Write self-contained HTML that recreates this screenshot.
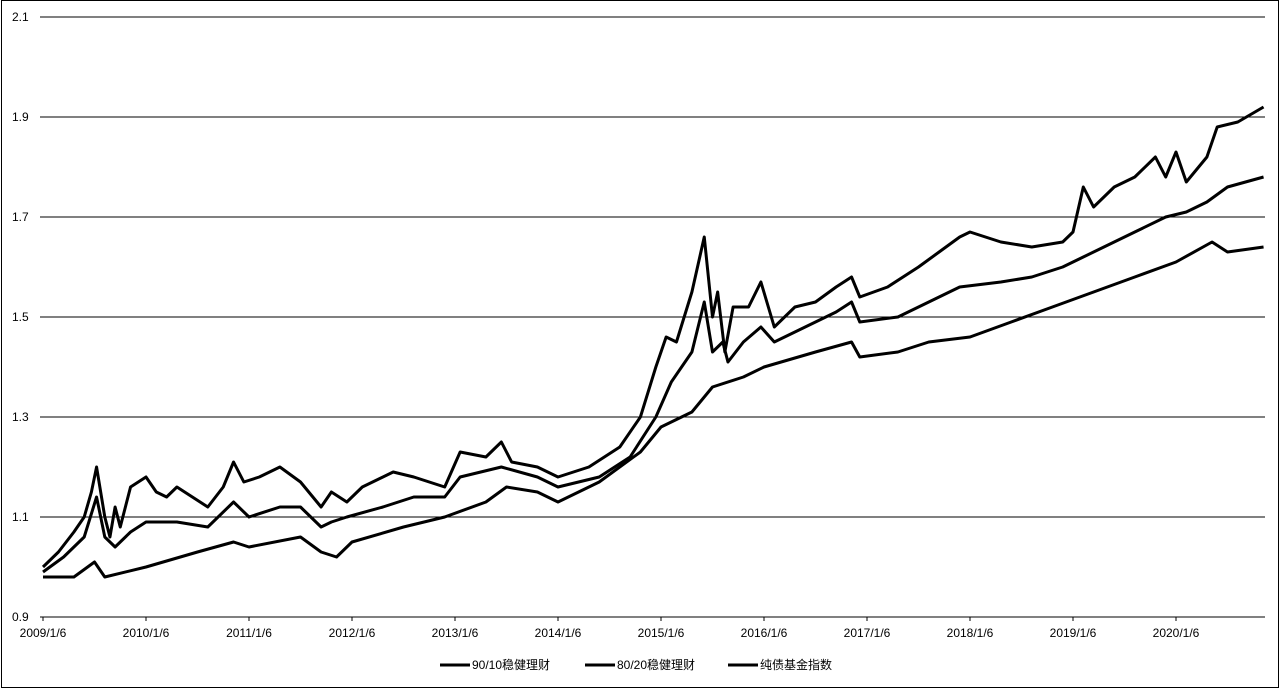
<!DOCTYPE html>
<html><head><meta charset="utf-8"><style>
body{margin:0;background:#fff}
svg text{font-family:"Liberation Sans","Noto Sans CJK SC",sans-serif;font-size:12px;fill:#000}
</style></head><body>
<svg width="1280" height="688" id="c">
<rect x="1.5" y="0.5" width="1277" height="687" fill="none" stroke="#000"/>
</svg>
<script>
const yTicks=[0.9,1.1,1.3,1.5,1.7,1.9,2.1];
const xTickLabels=["2009/1/6","2010/1/6","2011/1/6","2012/1/6","2013/1/6","2014/1/6","2015/1/6","2016/1/6","2017/1/6","2018/1/6","2019/1/6","2020/1/6"];
const seriesNames=["90/10稳健理财","80/20稳健理财","纯债基金指数"];
const tA=[2009.0,2009.15,2009.3,2009.4,2009.47,2009.52,2009.6,2009.65,2009.7,2009.75,2009.85,2010.0,2010.1,2010.2,2010.3,2010.45,2010.6,2010.75,2010.85,2010.95,2011.1,2011.3,2011.5,2011.7,2011.8,2011.95,2012.1,2012.4,2012.6,2012.9,2013.05,2013.3,2013.45,2013.55,2013.8,2014.0,2014.3,2014.6,2014.8,2014.95,2015.05,2015.15,2015.3,2015.42,2015.5,2015.55,2015.62,2015.7,2015.85,2015.97,2016.1,2016.3,2016.5,2016.7,2016.85,2016.93,2017.2,2017.5,2017.7,2017.9,2018.0,2018.3,2018.6,2018.9,2019.0,2019.1,2019.2,2019.4,2019.6,2019.8,2019.9,2020.0,2020.1,2020.3,2020.4,2020.6,2020.85];
const vA=[1.00,1.03,1.07,1.10,1.15,1.20,1.10,1.06,1.12,1.08,1.16,1.18,1.15,1.14,1.16,1.14,1.12,1.16,1.21,1.17,1.18,1.20,1.17,1.12,1.15,1.13,1.16,1.19,1.18,1.16,1.23,1.22,1.25,1.21,1.20,1.18,1.20,1.24,1.30,1.40,1.46,1.45,1.55,1.66,1.50,1.55,1.43,1.52,1.52,1.57,1.48,1.52,1.53,1.56,1.58,1.54,1.56,1.60,1.63,1.66,1.67,1.65,1.64,1.65,1.67,1.76,1.72,1.76,1.78,1.82,1.78,1.83,1.77,1.82,1.88,1.89,1.92];
const tB=[2009.0,2009.2,2009.4,2009.52,2009.6,2009.7,2009.85,2010.0,2010.3,2010.6,2010.85,2011.0,2011.3,2011.5,2011.7,2011.8,2011.95,2012.3,2012.6,2012.9,2013.05,2013.45,2013.8,2014.0,2014.4,2014.7,2014.95,2015.1,2015.3,2015.42,2015.5,2015.6,2015.65,2015.8,2015.97,2016.1,2016.4,2016.7,2016.85,2016.93,2017.3,2017.6,2017.9,2018.3,2018.6,2018.9,2019.1,2019.3,2019.6,2019.9,2020.1,2020.3,2020.5,2020.85];
const vB=[0.99,1.02,1.06,1.14,1.06,1.04,1.07,1.09,1.09,1.08,1.13,1.10,1.12,1.12,1.08,1.09,1.10,1.12,1.14,1.14,1.18,1.20,1.18,1.16,1.18,1.22,1.30,1.37,1.43,1.53,1.43,1.45,1.41,1.45,1.48,1.45,1.48,1.51,1.53,1.49,1.50,1.53,1.56,1.57,1.58,1.60,1.62,1.64,1.67,1.70,1.71,1.73,1.76,1.78];
const tC=[2009.0,2009.3,2009.5,2009.6,2010.0,2010.5,2010.85,2011.0,2011.5,2011.7,2011.85,2012.0,2012.5,2012.9,2013.3,2013.5,2013.8,2014.0,2014.4,2014.8,2015.0,2015.3,2015.5,2015.8,2016.0,2016.5,2016.85,2016.93,2017.3,2017.6,2018.0,2018.4,2018.8,2019.2,2019.6,2020.0,2020.35,2020.5,2020.85];
const vC=[0.98,0.98,1.01,0.98,1.00,1.03,1.05,1.04,1.06,1.03,1.02,1.05,1.08,1.10,1.13,1.16,1.15,1.13,1.17,1.23,1.28,1.31,1.36,1.38,1.40,1.43,1.45,1.42,1.43,1.45,1.46,1.49,1.52,1.55,1.58,1.61,1.65,1.63,1.64];
const X0=43,PX=103,Y0=617,PY=500,L=40,R=1265;
const xs=t=>X0+(t-2009)*PX, ys=v=>Y0-(v-0.9)*PY;
const svg=document.getElementById('c'),NS='http://www.w3.org/2000/svg';
function mk(tag,at){const e=document.createElementNS(NS,tag);for(const k in at)e.setAttribute(k,at[k]);svg.appendChild(e);return e;}
yTicks.forEach(v=>{
 const g=mk('line',{x1:L,x2:R,y1:ys(v),y2:ys(v),stroke:'#000','stroke-width':1});
 
 
 const t=mk('text',{x:12,y:ys(v)+4});t.textContent=v.toFixed(1);
 
 
});
xTickLabels.forEach((s,i)=>{
 const tk=mk('line',{x1:xs(2009+i),x2:xs(2009+i),y1:Y0,y2:Y0+4,stroke:'#000'});
 
 
 const t=mk('text',{x:xs(2009+i),y:Y0+20,'text-anchor':'middle'});t.textContent=s;
 
 
});
[[tA,vA,'series-90-10'],[tB,vB,'series-80-20'],[tC,vC,'series-bond-index']].forEach(([t,v,n])=>{
 const p=mk('polyline',{points:t.map((d,i)=>xs(d)+','+ys(v[i])).join(' '),fill:'none',stroke:'#000','stroke-width':3,'stroke-linejoin':'round'});
 
 
});
const lx=[440,585,728];
seriesNames.forEach((s,i)=>{
 const l=mk('line',{x1:lx[i],x2:lx[i]+30,y1:665,y2:665,stroke:'#000','stroke-width':3});
 
 
 const t=mk('text',{x:lx[i]+32,y:669});t.textContent=s;
 
 
});
</script>
</body></html>
